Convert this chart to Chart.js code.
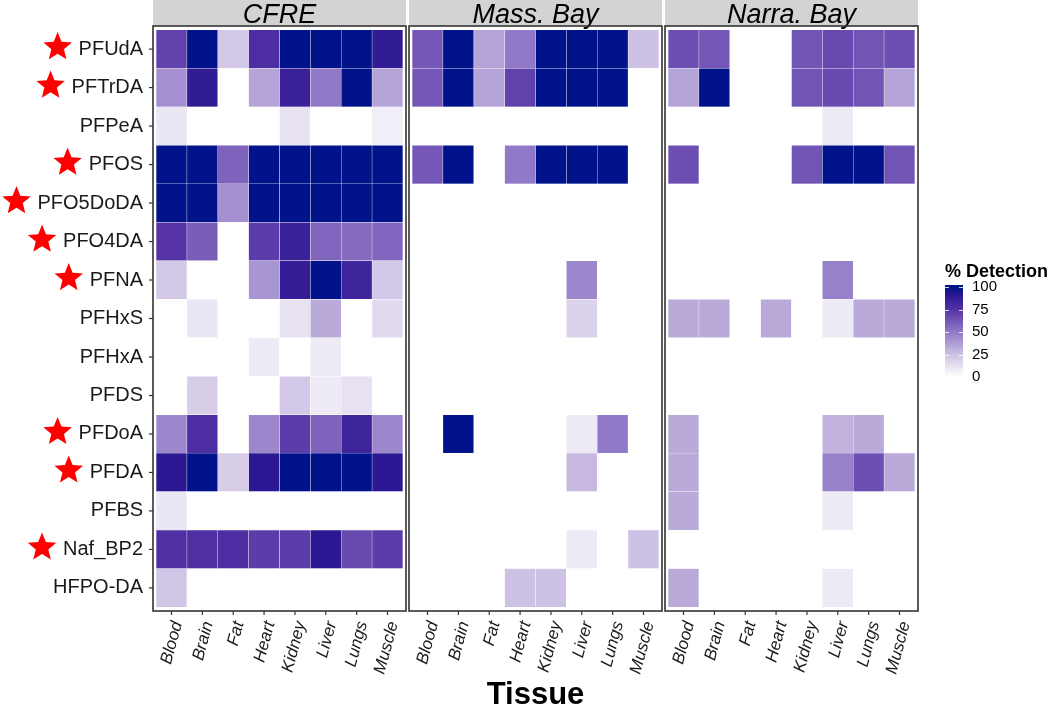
<!DOCTYPE html>
<html>
<head>
<meta charset="utf-8">
<script src="https://cdn.jsdelivr.net/npm/chart.js@4.4.1/dist/chart.umd.min.js"></script>
<style>
  body { margin: 0; background: #fff; }
  #wrap { position: relative; width: 1050px; height: 712px; overflow: hidden; }
  #wrap canvas { position: absolute; top: 0; }
</style>
</head>
<body>
<div id="wrap">
  <canvas id="c0"></canvas>
  <canvas id="c1"></canvas>
  <canvas id="c2"></canvas>
</div>
<script>
// tissues on x, compounds top -> bottom on y
const tissues = ['Blood', 'Brain', 'Fat', 'Heart', 'Kidney', 'Liver', 'Lungs', 'Muscle'];
const compounds = ['PFUdA', 'PFTrDA', 'PFPeA', 'PFOS', 'PFO5DoDA', 'PFO4DA', 'PFNA', 'PFHxS',
                   'PFHxA', 'PFDS', 'PFDoA', 'PFDA', 'PFBS', 'Naf_BP2', 'HFPO-DA'];
const starred = ['PFUdA', 'PFTrDA', 'PFOS', 'PFO5DoDA', 'PFO4DA', 'PFNA', 'PFDoA', 'PFDA', 'Naf_BP2'];
const sites = ['CFRE', 'Mass. Bay', 'Narra. Bay'];
const legendTicks = [0, 25, 50, 75, 100];

// % detection, one row per compound (same order as compounds)
const cfre = [
  [70, 100, 22, 78, 100, 100, 100, 88],
  [42, 88, 0, 35, 85, 50, 100, 35],
  [10, 0, 0, 0, 12, 0, 0, 7],
  [100, 100, 58, 100, 100, 100, 100, 100],
  [100, 100, 42, 100, 100, 100, 100, 100],
  [75, 60, 0, 72, 85, 57, 55, 57],
  [22, 0, 0, 40, 87, 100, 83, 22],
  [0, 10, 0, 0, 12, 33, 0, 15],
  [0, 0, 0, 8, 0, 8, 0, 0],
  [0, 20, 0, 0, 22, 8, 12, 0],
  [45, 78, 0, 45, 72, 58, 83, 45],
  [90, 100, 20, 90, 100, 100, 100, 90],
  [10, 0, 0, 0, 0, 0, 0, 0],
  [77, 77, 78, 72, 72, 90, 67, 72],
  [23, 0, 0, 0, 0, 0, 0, 0]
];
const massBay = [
  [62, 100, 35, 50, 100, 100, 100, 25],
  [62, 100, 35, 70, 100, 100, 100, 0],
  [0, 0, 0, 0, 0, 0, 0, 0],
  [62, 100, 0, 50, 100, 100, 100, 0],
  [0, 0, 0, 0, 0, 0, 0, 0],
  [0, 0, 0, 0, 0, 0, 0, 0],
  [0, 0, 0, 0, 0, 45, 0, 0],
  [0, 0, 0, 0, 0, 18, 0, 0],
  [0, 0, 0, 0, 0, 0, 0, 0],
  [0, 0, 0, 0, 0, 0, 0, 0],
  [0, 100, 0, 0, 0, 9, 50, 0],
  [0, 0, 0, 0, 0, 28, 0, 0],
  [0, 0, 0, 0, 0, 0, 0, 0],
  [0, 0, 0, 0, 0, 9, 0, 25],
  [0, 0, 0, 25, 25, 0, 0, 0]
];
const narraBay = [
  [65, 62, 0, 0, 63, 67, 63, 65],
  [35, 100, 0, 0, 63, 67, 63, 35],
  [0, 0, 0, 0, 0, 9, 0, 0],
  [65, 0, 0, 0, 63, 100, 100, 63],
  [0, 0, 0, 0, 0, 0, 0, 0],
  [0, 0, 0, 0, 0, 0, 0, 0],
  [0, 0, 0, 0, 0, 47, 0, 0],
  [33, 33, 0, 33, 0, 9, 33, 33],
  [0, 0, 0, 0, 0, 0, 0, 0],
  [0, 0, 0, 0, 0, 0, 0, 0],
  [33, 0, 0, 0, 0, 30, 33, 0],
  [33, 0, 0, 0, 0, 47, 65, 33],
  [33, 0, 0, 0, 0, 9, 0, 0],
  [0, 0, 0, 0, 0, 0, 0, 0],
  [33, 0, 0, 0, 0, 9, 0, 0]
];
const siteValues = [cfre, massBay, narraBay];

// colour scale, white -> purple -> navy
const colorStops = [[0, '#ffffff'], [25, '#cdc1e4'], [50, '#9079c6'], [75, '#5533a6'], [90, '#2c1893'], [100, '#00138a']];

function hexRgb(h) {
  return [1, 3, 5].map(i => parseInt(h.slice(i, i + 2), 16));
}
function colorFor(v) {
  for (let i = 1; i < colorStops.length; i++) {
    if (v <= colorStops[i][0]) {
      const [v0, c0] = colorStops[i - 1], [v1, c1] = colorStops[i];
      const t = (v - v0) / (v1 - v0);
      const a = hexRgb(c0), b = hexRgb(c1);
      return 'rgb(' + a.map((x, k) => Math.round(x + (b[k] - x) * t)).join(',') + ')';
    }
  }
  return colorStops[colorStops.length - 1][1];
}

const FONT = '"Liberation Sans", Arial, sans-serif';
const H = 712;
const panelLefts = [153, 409, 665];
const panelW = 253, panelTop = 26, panelBottom = 611;
const colW = panelW / 8.2;
const rowH = (panelBottom - panelTop) / 15.2;
// canvas placement for each panel [left, width]
const canvasBox = [[0, 440], [379, 300], [635, 415]];

function drawStar(ctx, cx, cy, R) {
  const r = R * 0.44;
  ctx.beginPath();
  for (let k = 0; k < 10; k++) {
    const a = -Math.PI / 2 + k * Math.PI / 5;
    const rad = k % 2 ? r : R;
    ctx.lineTo(cx + rad * Math.cos(a), cy + rad * Math.sin(a));
  }
  ctx.closePath();
  ctx.fill();
}

function drawLegend(ctx) {
  ctx.save();
  ctx.fillStyle = '#000';
  ctx.font = 'bold 18px ' + FONT;
  ctx.textAlign = 'left';
  ctx.textBaseline = 'alphabetic';
  ctx.fillText('% Detection', 945, 277);
  const yOf = v => 377 - v * 0.9;
  const grad = ctx.createLinearGradient(0, yOf(0), 0, yOf(100));
  colorStops.forEach(s => grad.addColorStop(s[0] / 100, s[1]));
  ctx.fillStyle = grad;
  ctx.fillRect(945, yOf(100) - 2, 18, yOf(0) - yOf(100) + 4);
  ctx.strokeStyle = 'rgba(255,255,255,0.8)';
  ctx.lineWidth = 1;
  legendTicks.forEach(v => {
    const y = Math.round(yOf(v)) + 0.5;
    ctx.beginPath();
    ctx.moveTo(945, y); ctx.lineTo(949, y);
    ctx.moveTo(959, y); ctx.lineTo(963, y);
    ctx.stroke();
  });
  ctx.fillStyle = '#000';
  ctx.font = '15px ' + FONT;
  ctx.textBaseline = 'middle';
  legendTicks.forEach(v => ctx.fillText(String(v), 972, yOf(v)));
  ctx.restore();
}

function makePanel(idx) {
  const [ox, cw] = canvasBox[idx];
  const canvas = document.getElementById('c' + idx);
  canvas.width = cw;
  canvas.height = H;
  canvas.style.left = ox + 'px';

  const pl = panelLefts[idx];
  const areaL = pl + 0.1 * colW;
  const areaR = pl + panelW - 0.1 * colW;
  const areaT = panelTop + 0.1 * rowH;
  const areaB = panelBottom - 0.1 * rowH;
  const values = siteValues[idx];

  const panelPlugin = {
    id: 'panel' + idx,
    beforeDraw(chart) {
      const ctx = chart.ctx;
      ctx.save();
      ctx.translate(-ox, 0);
      ctx.fillStyle = '#d3d3d3';
      ctx.fillRect(pl, 0, panelW, panelTop);
      ctx.fillStyle = '#000';
      ctx.font = 'italic 27px ' + FONT;
      ctx.textAlign = 'center';
      ctx.textBaseline = 'middle';
      ctx.fillText(sites[idx], pl + panelW / 2, 15);
      ctx.restore();
    },
    afterDatasetsDraw(chart) {
      const ctx = chart.ctx;
      const xs = chart.scales.x;
      ctx.save();
      ctx.translate(-ox, 0);
      ctx.strokeStyle = '#333';
      ctx.lineWidth = 1.6;
      ctx.strokeRect(pl, panelTop, panelW, panelBottom - panelTop);
      ctx.lineWidth = 1.2;
      tissues.forEach((t, i) => {
        const x = xs.getPixelForTick(i) + ox;
        ctx.beginPath();
        ctx.moveTo(x, panelBottom); ctx.lineTo(x, panelBottom + 4);
        ctx.stroke();
      });
      if (idx === 0) {
        const ys = chart.scales.y;
        ctx.font = '20px ' + FONT;
        compounds.forEach((c, r) => {
          const y = ys.getPixelForValue(15 - r - 0.5);
          ctx.beginPath();
          ctx.moveTo(pl - 4, y); ctx.lineTo(pl, y);
          ctx.stroke();
          if (starred.includes(c)) {
            const left = areaL - 13 - ctx.measureText(c).width;
            ctx.fillStyle = '#ff0000';
            drawStar(ctx, left - 21, y - 2, 15);
          }
        });
      }
      if (idx === 1) {
        ctx.fillStyle = '#000';
        ctx.font = 'bold 31px ' + FONT;
        ctx.textAlign = 'center';
        ctx.textBaseline = 'alphabetic';
        ctx.fillText('Tissue', pl + panelW / 2, 704);
      }
      if (idx === 2) drawLegend(ctx);
      ctx.restore();
    }
  };

  // stacked bars build the tile grid; bottom dataset = last compound
  const datasets = compounds.map((c, r) => ({
    label: c,
    data: tissues.map(() => 1),
    backgroundColor: values[r].map(colorFor),
    borderColor: 'rgba(255,255,255,0.45)',
    borderWidth: 0.5,
    borderSkipped: false,
    categoryPercentage: 1,
    barPercentage: 1
  })).reverse();

  return new Chart(canvas, {
    type: 'bar',
    data: { labels: tissues, datasets: datasets },
    options: {
      responsive: false,
      animation: false,
      events: [],
      layout: { padding: { left: idx === 0 ? 0 : areaL - ox, right: ox + cw - areaR, top: areaT, bottom: 0 } },
      plugins: { legend: { display: false }, tooltip: { enabled: false } },
      scales: {
        x: {
          stacked: true,
          grid: { display: false, drawTicks: false },
          border: { display: false },
          ticks: {
            autoSkip: false, minRotation: 75, maxRotation: 75, padding: 12, labelOffset: 6,
            color: '#1a1a1a', font: { family: FONT, size: 17, style: 'italic' }
          },
          afterFit: s => { s.height = H - areaB; }
        },
        y: {
          display: idx === 0,
          stacked: true,
          min: 0, max: 15,
          grid: { display: false, drawTicks: false },
          border: { display: false },
          afterBuildTicks: s => { s.ticks = compounds.map((c, r) => ({ value: 15 - r - 0.5 })); },
          ticks: {
            padding: 13, color: '#1a1a1a', font: { family: FONT, size: 20 },
            callback: v => compounds[Math.round(14.5 - v)]
          },
          afterFit: s => { if (idx === 0) s.width = areaL; }
        }
      }
    },
    plugins: [panelPlugin]
  });
}

document.addEventListener('DOMContentLoaded', function () {
  [0, 1, 2].forEach(makePanel);
});
</script>
</body>
</html>
